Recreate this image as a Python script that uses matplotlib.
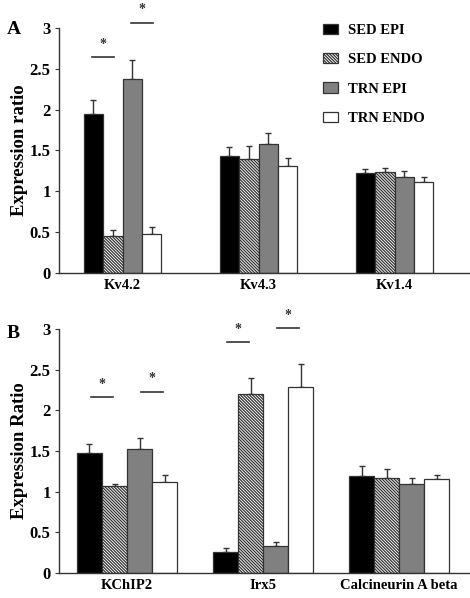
import numpy as np
import matplotlib.pyplot as plt

plt.rcParams['font.family'] = 'Liberation Serif'
plt.rcParams['font.weight'] = 'bold'
plt.rcParams['axes.labelweight'] = 'bold'
plt.rcParams['hatch.linewidth'] = 0.9

series = ["SED EPI", "SED ENDO", "TRN EPI", "TRN ENDO"]
colors = ["#000000", "#ffffff", "#808080", "#ffffff"]
hatches = [None, "\\" * 11, None, None]

genes_a = ["Kv4.2", "Kv4.3", "Kv1.4"]
vals_a = [[1.95, 1.43, 1.22],
          [0.45, 1.39, 1.24],
          [2.37, 1.58, 1.18],
          [0.48, 1.31, 1.11]]
errs_a = [[0.17, 0.11, 0.05],
          [0.07, 0.16, 0.05],
          [0.24, 0.13, 0.07],
          [0.08, 0.10, 0.07]]

genes_b = ["KChIP2", "Irx5", "Calcineurin A beta"]
vals_b = [[1.48, 0.26, 1.19],
          [1.07, 2.20, 1.17],
          [1.52, 0.33, 1.09],
          [1.12, 2.29, 1.15]]
errs_b = [[0.11, 0.05, 0.13],
          [0.03, 0.20, 0.11],
          [0.14, 0.05, 0.08],
          [0.08, 0.28, 0.06]]

# significance bars: (group, first bar of pair, height)
sig_a = [(0, 0, 2.64), (0, 2, 3.06)]
sig_b = [(0, 0, 2.16), (0, 2, 2.23), (1, 0, 2.84), (1, 2, 3.01)]


def panel(ax, genes, vals, errs, sigs, width, ylabel, xlim):
    x = np.arange(len(genes))
    for i in range(4):
        pos = x + (i - 1.5) * width
        ax.bar(pos, vals[i], width, color=colors[i], hatch=hatches[i],
               edgecolor="#333333", linewidth=0.9, label=series[i], zorder=2)
        ax.errorbar(pos, vals[i], yerr=[np.zeros(len(genes)), errs[i]],
                    fmt="none", ecolor="#333333", elinewidth=1, capsize=2.5,
                    capthick=1, zorder=1)
    for g, b, h in sigs:
        c = x[g] + (b - 1) * width
        ax.plot([c - 0.08, c + 0.08], [h, h], color="#333333", lw=1.2,
                clip_on=False)
        ax.text(c, h + 0.08, "*", ha="center", va="bottom", fontsize=10,
                color="#333333")
    ax.set_ylim(0, 3)
    ax.set_xlim(*xlim)
    ax.set_yticks([0, 0.5, 1, 1.5, 2, 2.5, 3])
    ax.set_yticklabels(["0", "0.5", "1", "1.5", "2", "2.5", "3"])
    ax.set_xticks(x)
    ax.set_xticklabels(genes)
    ax.tick_params(axis="x", length=0, pad=4, labelsize=10.5)
    ax.tick_params(axis="y", length=3, width=0.8, color="#333333",
                   labelsize=12, pad=3)
    for s in ["top", "right"]:
        ax.spines[s].set_visible(False)
    for s in ["left", "bottom"]:
        ax.spines[s].set_color("#333333")
        ax.spines[s].set_linewidth(1)
    ax.set_ylabel(ylabel, fontsize=13.5, labelpad=1)


fig = plt.figure(figsize=(4.7, 5.98), dpi=100)
ax1 = fig.add_axes([0.1255, 0.5435, 0.8745, 0.41])
ax2 = fig.add_axes([0.1255, 0.0418, 0.8745, 0.408])

panel(ax1, genes_a, vals_a, errs_a, sig_a, 0.143, "Expression ratio",
      (-0.467, 2.555))
panel(ax2, genes_b, vals_b, errs_b, sig_b, 0.184, "Expression Ratio",
      (-0.5, 2.52))

fig.text(0.015, 0.95, "A", fontsize=14, va="center")
fig.text(0.015, 0.443, "B", fontsize=14, va="center")

ax1.legend(loc="upper left", bbox_to_anchor=(0.688, 0.96),
           bbox_transform=fig.transFigure, frameon=False, fontsize=10.5,
           handlelength=1.0, handleheight=0.7, handletextpad=0.7,
           labelspacing=1.1, borderpad=0, borderaxespad=0)

fig.savefig("out.png", dpi=100)
